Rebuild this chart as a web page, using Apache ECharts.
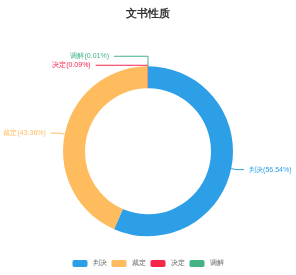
<!DOCTYPE html>
<html><head><meta charset="utf-8">
<script src="https://cdn.jsdelivr.net/npm/echarts@6/dist/echarts.min.js"></script>
<style>html,body{margin:0;padding:0;background:#fff}#c{width:296px;height:275px}</style>
</head><body><div id="c"></div>
<script>
const categories = ['判决', '裁定', '决定', '调解'];
const values = [56.54, 43.36, 0.09, 0.01];
const colors = ['#2D9FE6', '#FFBC5E', '#F5254B', '#44B384'];
const titleText = '文书性质';

const lineLens = [[5, 8], [5, 9], [1, 52], [10, 34]];

const chart = echarts.init(document.getElementById('c'));
chart.setOption({
  animation: false,
  color: colors,
  title: {text: titleText, left: 'center', top: 3, textStyle: {fontSize: 11, fontWeight: 'bold', color: '#333'}},
  legend: {bottom: 3, itemWidth: 15, itemHeight: 7, itemGap: 5, icon: 'roundRect',
    textStyle: {fontSize: 7, color: '#666'}, data: categories},
  series: [{
    type: 'pie',
    center: ['50%', '55%'],
    radius: [63, 85],
    label: {formatter: '{b}({d}%)', fontSize: 7, color: 'inherit', overflow: 'none'},
    labelLine: {length: 5, length2: 9},
    data: categories.map((c, i) => ({name: c, value: values[i],
      labelLine: {length: lineLens[i][0], length2: lineLens[i][1]}}))
  }]
});
</script></body></html>
